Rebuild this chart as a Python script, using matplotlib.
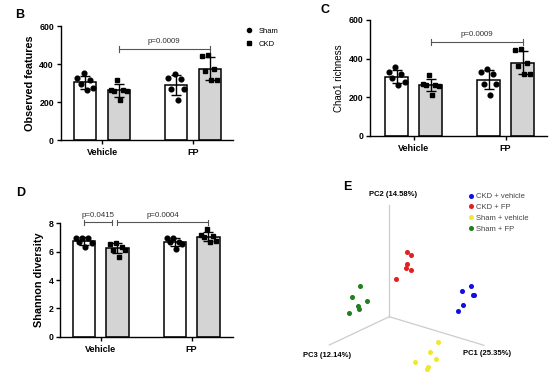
import matplotlib.pyplot as plt
import numpy as np

plt.rcParams['font.family'] = ['Liberation Sans', 'DejaVu Sans']

groups = ["Vehicle", "FP"]

# B - observed features (Sham, CKD) x (Vehicle, FP)
obs_sham_vehicle = [352, 325, 318, 298, 275, 262]
obs_ckd_vehicle = [314, 265, 262, 260, 258, 211]
obs_sham_fp = [347, 328, 321, 268, 267, 211]
obs_ckd_fp = [447, 444, 374, 363, 316, 316]

# C - Chao1 richness
chao_sham_vehicle = [355, 330, 320, 300, 278, 262]
chao_ckd_vehicle = [316, 268, 264, 262, 258, 212]
chao_sham_fp = [348, 330, 322, 270, 268, 212]
chao_ckd_fp = [450, 446, 376, 364, 318, 318]

# D - Shannon diversity
sha_sham_vehicle = [6.99, 6.99, 6.97, 6.71, 6.59, 6.35]
sha_ckd_vehicle = [6.64, 6.55, 6.35, 6.15, 6.10, 5.65]
sha_sham_fp = [6.99, 6.97, 6.71, 6.66, 6.54, 6.19]
sha_ckd_fp = [7.58, 7.22, 7.11, 7.06, 6.75, 6.71]

# E - PCoA projected coordinates
pcoa_labels = ["CKD + vehicle", "CKD + FP", "Sham + vehicle", "Sham + FP"]
pcoa_colors = ["#1010e0", "#e02020", "#f0e830", "#208020"]
pcoa_x = [
    [73, 81.4, 84, 85, 74, 68.7],
    [17.7, 21.4, 17.7, 16.7, 22, 7],
    [48.4, 41, 47, 25.7, 38.7, 38],
    [-29.3, -37.3, -22.3, -31.6, -30.6, -40],
]
pcoa_y = [
    [25.7, 30.7, 21.4, 21.7, 11.4, 6],
    [64.7, 61.7, 52.4, 49, 46.7, 38],
    [-25.6, -35.6, -42.3, -45.6, -50.3, -52.6],
    [31, 19.4, 15.4, 11, 7.7, 4],
]
pc_names = ["PC1 (25.35%)", "PC2 (14.58%)", "PC3 (12.14%)"]
pc_ends = [(94.7, -28.6), (0, 111.7), (-60, -28.3)]

fig = plt.figure(figsize=(5.54, 3.84), dpi=100)

GRAY = "#d4d4d4"


def bar_panel(pos, data, ylim, yticks, ylabel, xlim, sigs, letter, letter_xy, label_bold=True):
    ax = fig.add_axes(pos)
    centers = np.arange(len(groups))
    off = 0.185
    width = 0.245
    for gi, (sham, ckd) in enumerate(data):
        for vals, dx, fc, mk in [(sham, -off, "white", "o"), (ckd, off, GRAY, "s")]:
            x = centers[gi] + dx
            m = np.mean(vals)
            sd = np.std(vals, ddof=1)
            ax.bar(x, m, width=width, color=fc, edgecolor="black", linewidth=1.1, zorder=1)
            jit = np.linspace(-0.085, 0.085, len(vals))
            ax.plot(x + jit[[2, 0, 4, 1, 5, 3]], vals, mk, color="black", ms=3.4, zorder=3)
            ax.errorbar(x, m, yerr=sd, color="black", capsize=3.5, elinewidth=1, capthick=1, zorder=4)
    for x1, x2, yv, txt in sigs:
        ax.plot([x1, x2], [yv, yv], color="#555555", lw=0.8, clip_on=False)
        dy = (ylim[1] - ylim[0]) * 0.025
        ax.plot([x1, x1], [yv - dy, yv + dy], color="#555555", lw=0.8, clip_on=False)
        ax.plot([x2, x2], [yv - dy, yv + dy], color="#555555", lw=0.8, clip_on=False)
        ax.text((x1 + x2) / 2, yv + (ylim[1] - ylim[0]) * 0.035, txt, ha="center", va="bottom",
                fontsize=5.7, color="#333333")
    ax.set_xlim(*xlim)
    ax.set_ylim(*ylim)
    ax.set_yticks(yticks)
    ax.set_xticks(centers)
    ax.set_xticklabels(groups, fontweight="bold", fontsize=6.5)
    ax.tick_params(axis="y", labelsize=6.3, length=3, width=1, pad=2)
    ax.tick_params(axis="x", length=3, width=1, pad=3)
    for lab in ax.get_yticklabels():
        lab.set_fontweight("bold")
    ax.spines["top"].set_visible(False)
    ax.spines["right"].set_visible(False)
    ax.spines["left"].set_linewidth(1)
    ax.spines["bottom"].set_linewidth(1)
    ax.set_ylabel(ylabel, fontsize=7.8 if label_bold else 7.0,
                  fontweight="bold" if label_bold else "normal", labelpad=3)
    fig.text(letter_xy[0], letter_xy[1], letter, fontsize=9, fontweight="bold", ha="left", va="center")
    return ax


axB = bar_panel([0.110, 0.635, 0.310, 0.297],
                [(obs_sham_vehicle, obs_ckd_vehicle), (obs_sham_fp, obs_ckd_fp)],
                (0, 600), [0, 200, 400, 600], "Observed features", (-0.452, 1.437),
                [(0.185, 1.185, 481, "p=0.0009")], "B", (0.028, 0.96))
axB.plot([], [], "o", color="black", ms=3, label="Sham")
axB.plot([], [], "s", color="black", ms=3, label="CKD")
axB.legend(loc="upper left", bbox_to_anchor=(1.03, 1.05), frameon=False, fontsize=5.5,
           handletextpad=0.8, labelspacing=0.8, handlelength=1.0)

bar_panel([0.668, 0.646, 0.319, 0.302],
          [(chao_sham_vehicle, chao_ckd_vehicle), (chao_sham_fp, chao_ckd_fp)],
          (0, 600), [0, 200, 400, 600], "Chao1 richness", (-0.475, 1.449),
          [(0.185, 1.185, 485, "p=0.0009")], "C", (0.578, 0.975), label_bold=False)

bar_panel([0.109, 0.123, 0.311, 0.295],
          [(sha_sham_vehicle, sha_ckd_vehicle), (sha_sham_fp, sha_ckd_fp)],
          (0, 8), [0, 2, 4, 6, 8], "Shannon diversity", (-0.443, 1.452),
          [(-0.185, 0.13, 8.07, "p=0.0415"), (0.185, 1.185, 8.07, "p=0.0004")],
          "D", (0.030, 0.497))

# E - PCoA
axE = fig.add_axes([300 / 554, 0, 254 / 554, 199 / 384])
axE.set_xlim(-89.3, 164.7)
axE.set_ylim(-67.3, 131.7)
axE.axis("off")
for (ex, ey) in pc_ends:
    axE.plot([0, ex], [0, ey], color="#cccccc", lw=0.9)
axE.text(4, 121.7, pc_names[1], ha="center", va="center", fontsize=5.5, fontweight="bold")
axE.text(97.4, -36.6, pc_names[0], ha="center", va="center", fontsize=5.5, fontweight="bold")
axE.text(-62.6, -39, pc_names[2], ha="center", va="center", fontsize=5.5, fontweight="bold")
for lab, col, xs, ys in zip(pcoa_labels, pcoa_colors, pcoa_x, pcoa_y):
    axE.plot(xs, ys, "o", color=col, ms=2.6, label=lab, linestyle="none")
axE.legend(loc="upper left", bbox_to_anchor=(0.63, 0.995), frameon=False, fontsize=5.5,
           handletextpad=0.2, labelspacing=0.45, handlelength=1.0, labelcolor="#444444")
axE.text(-46.3, 129.5, "E", fontsize=9, fontweight="bold", ha="left", va="center")

fig.savefig("out.png", dpi=100)
